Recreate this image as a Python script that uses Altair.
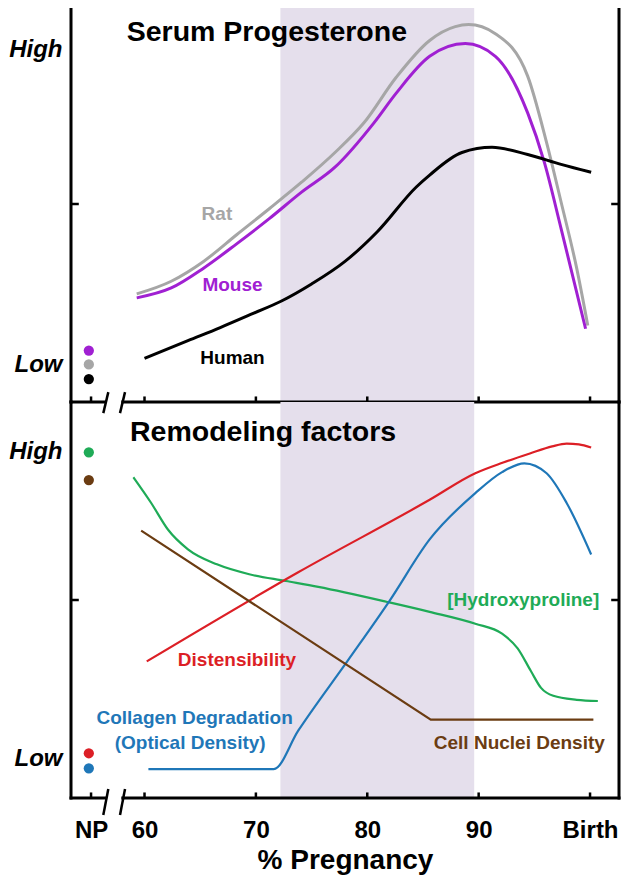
import altair as alt
import pandas as pd

# ---------------- data ----------------
# x = % pregnancy (NP shown at ~55), y = relative level (0..10, Low~1, High~9)
rat_x = [59.3, 62.4, 65.3, 68.3, 71.2, 74.1, 77.1, 79.7, 82.6, 85.6, 87.9, 89.1, 91.5, 94.4, 96.1, 97.4, 98.8, 99.8]
rat_y = [2.73, 3.05, 3.55, 4.23, 4.88, 5.55, 6.3, 7.05, 8.2, 9.13, 9.48, 9.53, 9.3, 8.23, 6.55, 5.05, 3.38, 1.93]

mouse_x = [59.3, 62.4, 65.3, 68.3, 71.2, 74.1, 77.1, 80.6, 82.6, 85.6, 88.8, 91.5, 94.4, 95.9, 97.4, 99.6]
mouse_y = [2.63, 2.88, 3.38, 4.0, 4.63, 5.3, 5.93, 7.05, 7.8, 8.73, 9.05, 8.73, 7.3, 6.05, 4.38, 1.85]

human_x = [60.0, 63.9, 66.8, 69.7, 72.3, 75.0, 78.0, 80.9, 84.4, 85.6, 88.5, 91.2, 94.4, 97.4, 100.1]
human_y = [1.1, 1.55, 1.88, 2.23, 2.55, 2.98, 3.55, 4.3, 5.43, 5.73, 6.3, 6.43, 6.25, 6.0, 5.8]

hyp_x = [59.0, 60.6, 62.1, 63.9, 66.5, 69.4, 72.7, 75.6, 81.8, 85.6, 89.7, 92.1, 93.5, 94.7, 95.6, 96.7, 98.8, 100.7]
hyp_y = [8.1, 7.45, 6.78, 6.28, 5.9, 5.65, 5.48, 5.33, 4.95, 4.7, 4.4, 4.15, 3.78, 3.2, 2.78, 2.58, 2.48, 2.45]

dist_x = [60.2, 73.8, 85.6, 89.7, 92.2, 94.6, 96.6, 97.9, 99.0, 100.1]
dist_y = [3.45, 5.7, 7.53, 8.2, 8.47, 8.7, 8.88, 8.95, 8.93, 8.85]

coll_x = [60.35, 71.6, 73.8, 78.2, 82.0, 85.6, 89.7, 92.1, 94.1, 96.1, 97.9, 100.1]
coll_y = [0.73, 0.73, 1.7, 3.45, 4.98, 6.53, 7.7, 8.23, 8.45, 8.2, 7.45, 6.15]

nuclei_x = [59.7, 85.7, 100.3]
nuclei_y = [6.75, 1.98, 1.98]

# non-pregnant (NP) dots
np_x = 55.0
np_top_series = ["Mouse", "Rat", "Human"]
np_top_y = [1.3, 0.95, 0.58]
np_bot_series = ["Hydroxyproline", "Nuclei", "Distensibility", "Collagen"]
np_bot_y = [8.73, 8.03, 1.13, 0.75]

# window of interest (shaded)
shade_range = [72.2, 89.6]

# tick labels
x_tick_values = [55.2, 60, 70, 80, 90, 100]
x_tick_labels = ["NP", "60", "70", "80", "90", "Birth"]

# in-plot labels
top_label_text = ["Rat", "Mouse", "Human"]
top_label_x = [66.5, 67.9, 67.9]
top_label_y = [4.75, 2.95, 1.1]
bot_label_text = ["Distensibility", "Collagen Degradation", "(Optical Density)", "[Hydroxyproline]", "Cell Nuclei Density"]
bot_label_x = [68.3, 64.5, 64.1, 94.0, 93.65]
bot_label_y = [3.48, 2.03, 1.4, 5.0, 1.38]

# ---------------- styling ----------------
FONT = "Liberation Sans"
XMIN, XMAX = 53.4, 102.6
W, H = 548, 396

colors = {
    "Rat": "#a6a6a6",
    "Mouse": "#a020d2",
    "Human": "#000000",
    "Hydroxyproline": "#1fab57",
    "Nuclei": "#6b3c12",
    "Distensibility": "#dc1f26",
    "Collagen": "#1f77b8",
}
label_colors_top = [colors["Rat"], colors["Mouse"], colors["Human"]]
label_colors_bot = [colors["Distensibility"], colors["Collagen"], colors["Collagen"],
                    colors["Hydroxyproline"], colors["Nuclei"]]

xscale = alt.Scale(domain=[XMIN, XMAX], nice=False, zero=False)
yscale = alt.Scale(domain=[0, 10], nice=False, zero=False)


def y_axis(vals):
    return alt.Axis(values=vals, labelExpr="datum.value > 5 ? 'High' : 'Low'",
                    ticks=False, domain=False, grid=False, title="",
                    labelFont=FONT, labelFontSize=24, labelFontWeight="bold",
                    labelFontStyle="italic", labelColor="black", labelPadding=9)


label_expr = " : ".join(
    [f"datum.value < {v + 0.5} && datum.value > {v - 0.5} ? '{l}'" for v, l in zip(x_tick_values, x_tick_labels)]
) + " : ''"

bottom_x_axis = alt.Axis(values=x_tick_values, labelExpr=label_expr, ticks=False, domain=False,
                         grid=False, labelFont=FONT, labelFontSize=24, labelFontWeight="bold",
                         labelColor="black", labelPadding=20, labelOverlap=False, labelFlush=False,
                         title="% Pregnancy", titleFont=FONT, titleFontSize=28, titleFontWeight="bold",
                         titleColor="black", titlePadding=4)


def XE(axis):
    return alt.X("x:Q", scale=xscale, axis=axis)


def YE(axis):
    return alt.Y("y:Q", scale=yscale, axis=axis)


def series_df(items):
    rows = []
    for name, xs, ys in items:
        for i, (a, b) in enumerate(zip(xs, ys)):
            rows.append({"series": name, "x": a, "y": b, "o": i})
    return pd.DataFrame(rows)


color_enc = alt.Color("series:N", scale=alt.Scale(domain=list(colors.keys()), range=list(colors.values())),
                      legend=None)


def frame_layers(xaxis, yaxis, top_edge, slash_lo, slash_hi):
    segs = [
        (XMIN, 0, XMIN, 10),
        (XMAX, 0, XMAX, 10),
        (XMIN, 0, 56.45, 0),
        (58.05, 0, XMAX, 0),
    ]
    if top_edge:
        segs.append((XMIN, 10, XMAX, 10))
    fdf = pd.DataFrame(segs, columns=["x", "y", "x2", "y2"])
    frame = alt.Chart(fdf).mark_rule(color="black", strokeWidth=3, strokeCap="square").encode(
        x=XE(xaxis), y=YE(yaxis), x2="x2:Q", y2="y2:Q")
    tk = [(t, 0, t, 0.14) for t in x_tick_values]
    tk += [(XMIN, 5, XMIN + 0.7, 5), (XMAX - 0.7, 5, XMAX, 5)]
    tdf = pd.DataFrame(tk, columns=["x", "y", "x2", "y2"])
    ticks = alt.Chart(tdf).mark_rule(color="black", strokeWidth=2.5).encode(
        x=XE(xaxis), y=YE(yaxis), x2="x2:Q", y2="y2:Q")
    sl = [(56.3, slash_lo, 56.75, slash_hi), (57.8, slash_lo, 58.25, slash_hi)]
    sdf = pd.DataFrame(sl, columns=["x", "y", "x2", "y2"])
    slashes = alt.Chart(sdf).mark_rule(color="black", strokeWidth=2.5).encode(
        x=XE(xaxis), y=YE(yaxis), x2="x2:Q", y2="y2:Q")
    return [frame, ticks, slashes]


def shade_layer(xaxis, yaxis):
    sdf = pd.DataFrame({"x": [shade_range[0]], "x2": [shade_range[1]], "y": [0], "y2": [10]})
    return alt.Chart(sdf).mark_rect(color="#e5dfec").encode(
        x=XE(xaxis), x2="x2:Q", y=YE(yaxis), y2="y2:Q")


# ---------------- top panel ----------------
top_yaxis = y_axis([0.95, 8.9])
top_lines_df = series_df([("Rat", rat_x, rat_y), ("Mouse", mouse_x, mouse_y), ("Human", human_x, human_y)])
top_lines = alt.Chart(top_lines_df).mark_line(interpolate="monotone", strokeWidth=3).encode(
    x=XE(None), y=YE(top_yaxis), color=color_enc, order="o:Q", detail="series:N")
top_dots = alt.Chart(pd.DataFrame({"series": np_top_series, "x": [np_x] * 3, "y": np_top_y})).mark_circle(
    size=105, opacity=1).encode(x=XE(None), y=YE(top_yaxis), color=color_enc)
top_labels = alt.Chart(pd.DataFrame({"t": top_label_text, "x": top_label_x, "y": top_label_y,
                                     "c": label_colors_top})).mark_text(
    font=FONT, fontSize=19, fontWeight="bold").encode(
    x=XE(None), y=YE(top_yaxis), text="t:N", color=alt.Color("c:N", scale=None))
top_title = alt.Chart(pd.DataFrame({"t": ["Serum Progesterone"], "x": [58.4], "y": [9.35]})).mark_text(
    font=FONT, fontSize=28.5, fontWeight="bold", align="left", color="black").encode(
    x=XE(None), y=YE(top_yaxis), text="t:N")

top = alt.layer(shade_layer(None, top_yaxis), top_lines, top_dots, top_labels, top_title,
                *frame_layers(None, top_yaxis, True, -0.28, 0.25)).properties(width=W, height=H)

# ---------------- bottom panel ----------------
bot_yaxis = y_axis([1.0, 8.75])
smooth_df = series_df([("Hydroxyproline", hyp_x, hyp_y), ("Distensibility", dist_x, dist_y),
                       ("Collagen", coll_x, coll_y)])
bot_smooth = alt.Chart(smooth_df).mark_line(interpolate="monotone", strokeWidth=2.2).encode(
    x=XE(bottom_x_axis), y=YE(bot_yaxis), color=color_enc, order="o:Q", detail="series:N")
bot_linear = alt.Chart(series_df([("Nuclei", nuclei_x, nuclei_y)])).mark_line(strokeWidth=2.2).encode(
    x=XE(bottom_x_axis), y=YE(bot_yaxis), color=color_enc, order="o:Q")
bot_dots = alt.Chart(pd.DataFrame({"series": np_bot_series, "x": [np_x] * 4, "y": np_bot_y})).mark_circle(
    size=105, opacity=1).encode(x=XE(bottom_x_axis), y=YE(bot_yaxis), color=color_enc)
bot_labels = alt.Chart(pd.DataFrame({"t": bot_label_text, "x": bot_label_x, "y": bot_label_y,
                                     "c": label_colors_bot})).mark_text(
    font=FONT, fontSize=19, fontWeight="bold").encode(
    x=XE(bottom_x_axis), y=YE(bot_yaxis), text="t:N", color=alt.Color("c:N", scale=None))
bot_title = alt.Chart(pd.DataFrame({"t": ["Remodeling factors"], "x": [58.7], "y": [9.23]})).mark_text(
    font=FONT, fontSize=28.5, fontWeight="bold", align="left", color="black").encode(
    x=XE(bottom_x_axis), y=YE(bot_yaxis), text="t:N")

bottom = alt.layer(shade_layer(bottom_x_axis, bot_yaxis), bot_smooth, bot_linear, bot_dots, bot_labels,
                   bot_title, *frame_layers(bottom_x_axis, bot_yaxis, False, -0.43, 0.23)).properties(
    width=W, height=H)

chart = alt.vconcat(top, bottom, spacing=0, bounds="flush").properties(
    padding={"left": 0, "top": -5, "right": 0, "bottom": 0},
    background="white",
).configure_view(stroke="transparent")

chart.save("out.html", embed_options={"renderer": "svg", "actions": False})
